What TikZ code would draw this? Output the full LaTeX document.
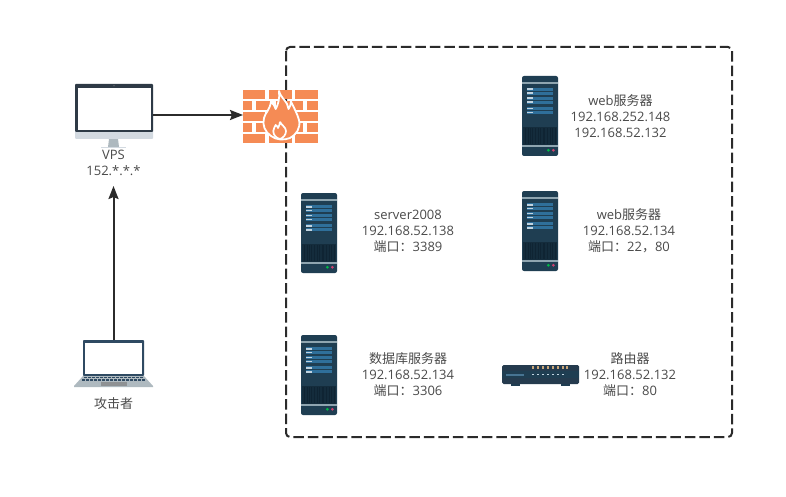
\documentclass[tikz,border=0pt]{standalone}
\usepackage{fontspec}
\setmainfont{Open Sans}
\newfontfamily\cjk{Noto Sans CJK SC}
\usetikzlibrary{arrows.meta}
\definecolor{txt}{HTML}{4A4A4A}
\definecolor{line}{HTML}{2B2B2B}
\definecolor{srv}{HTML}{1F3E52}
\definecolor{srvrow}{HTML}{2F6F9A}
\definecolor{srvband}{HTML}{8FA5B0}
\definecolor{srvvent}{HTML}{0F2433}
\definecolor{brick}{HTML}{F58B55}
\definecolor{navy}{HTML}{2F4A62}
\definecolor{bezel}{HTML}{2E3A46}
\definecolor{chin}{HTML}{D3DAE1}
\definecolor{stand}{HTML}{AEB9BF}
\definecolor{led}{HTML}{C9A77A}
\tikzset{
  x=1pt,y=-1pt,
  lbl/.style={font=\fontsize{13}{16}\selectfont,text=txt,align=center,inner sep=0pt,anchor=center},
  box/.style={inner sep=0pt,outer sep=0pt,anchor=north west},
  conn/.style={draw=line,line width=2pt,-{Stealth[length=13pt,width=10pt,inset=2pt]}},
  zone/.style={draw=line,line width=2pt,rounded corners=4pt,dash pattern=on 10.5pt off 4pt},
  serverpic/.pic={
    \fill[srv,rounded corners=2pt] (0,0) rectangle (36,80);
    \fill[srvband] (0,6) rectangle (36,8);
    \fill[srvband] (0,69) rectangle (36,71);
    \foreach \a/\b in {11.7/15.3,15.7/19,20.7/24,24.7/27.7,31/34.3,35/38.3}{
      \fill[srvrow] (5,\a) rectangle (31,\b);
      \fill[white!70!srvrow] (5,\a+0.8) rectangle (11,\b-0.8);
    }
    \fill[srvvent!70!srv] (1,51) rectangle (35,69);
    \foreach \v in {3,5.5,8,10,13,15.5,18,20.5,22,25,27.5,30,32.5}{
      \fill[srvvent] (\v,52) rectangle (\v+1.1,68);
    }
    \fill[green!45!teal] (26.3,74.3) circle (1.5);
    \fill[purple!75!white] (31.3,74.3) circle (1.5);
  }
}
\newcommand{\cj}[1]{{\cjk #1}}
\begin{document}
\begin{tikzpicture}
\useasboundingbox (0,0) rectangle (786,497);
\fill[white] (0,0) rectangle (786,497);

% dashed zone
\node[box,minimum width=446pt,minimum height=390pt] (zone) at (286,47) {};
\draw[zone] (zone.north west) rectangle (zone.south east);

% monitor
\node[box,minimum width=78pt,minimum height=64pt] (mon) at (75,84) {};
\fill[stand] (109,139) -- (118,139) -- (119,147) -- (108,147) -- cycle;
\fill[chin] (101,147) rectangle (126,148.5);
\fill[chin,rounded corners=1pt] (75,130) rectangle (153,139);
\fill[bezel,rounded corners=1pt] (75,84) rectangle (153,132);
\fill[white] (77.5,88) rectangle (151,130);
\fill[gray] (114,85.8) circle (0.6);

% firewall
\node[box,minimum width=75pt,minimum height=53pt] (fw) at (243,90) {};
\foreach \y in {90,112,134}{
  \foreach \a/\b in {243/265,269/292,295/318}{
    \fill[brick] (\a,\y) rectangle (\b,\y+9);
  }
}
\foreach \y in {101,123}{
  \foreach \a/\b in {243/252,256/272,276/303,307/318}{
    \fill[brick] (\a,\y) rectangle (\b,\y+9);
  }
}
\filldraw[fill=brick,draw=white,line width=1.8pt,line join=round]
  (279,91) .. controls (280,96) and (285,100) .. (287,104)
  .. controls (288,106) and (288,108) .. (288.5,109)
  .. controls (290,107) and (291,104) .. (291,101.5)
  .. controls (294,108) and (297,113) .. (299,120)
  .. controls (301,128) and (296,135) .. (290,138)
  .. controls (284,140.5) and (276,140) .. (271,136)
  .. controls (265,132) and (262,125) .. (264,118)
  .. controls (265,113) and (270,110) .. (271,101.5)
  .. controls (273,104) and (275,106) .. (275.7,109)
  .. controls (278,105) and (280,98) .. (279,91) -- cycle;
\draw[white,line width=1.7pt,line join=round]
  (280,121.7) .. controls (281,125) and (286,127) .. (286,131)
  .. controls (286,135) and (283,138) .. (280,139)
  .. controls (276,138) and (273.3,135) .. (273.3,131)
  .. controls (273.3,128.5) and (275,127) .. (275.7,125)
  .. controls (277,126) and (278,127) .. (278,128)
  .. controls (279,126) and (280,124) .. (280,121.7);

% laptop
\node[box,minimum width=79pt,minimum height=47pt] (lap) at (74,340) {};
\fill[navy,rounded corners=0.8pt] (83,340) rectangle (144,376);
\fill[white] (85,343) rectangle (142,374);
\fill[stand] (83,376) -- (144,376) -- (153,386) -- (153,387) -- (74,387) -- (74,386) -- cycle;
\foreach \r/\l/\u in {377.5/84/143,380/82/145}{
  \draw[navy,line width=1.5pt,dash pattern=on 3pt off 1pt] (\l,\r) -- (\u,\r);
}
\fill[gray!70!stand] (101,382) rectangle (127,386);

% router
\node[box,minimum width=77pt,minimum height=20pt] (rt) at (502,365) {};
\fill[srv] (511,384) rectangle (520,385.5);
\fill[srv] (561,384) rectangle (570,385.5);
\fill[navy!80!black,rounded corners=1.5pt] (502,365) rectangle (579,384);
\fill[srv] (502,371) rectangle (579,378);
\fill[srvrow!70!gray] (506,373.5) rectangle (524,375.5);
\foreach \v in {532,537,542,547,552,557,562}{
  \fill[white!70!srvrow] (\v,373.8) rectangle (\v+1.5,375.2);
  \fill[led] (\v,366.3) rectangle (\v+1.5,369);
}
\fill[led] (566,366.3) rectangle (567.5,369);

% servers
\node[box,minimum width=36pt,minimum height=80pt] (s1) at (522,76) {};
\node[box,minimum width=36pt,minimum height=80pt] (s2) at (522,191) {};
\node[box,minimum width=36pt,minimum height=80pt] (s3) at (301,193) {};
\node[box,minimum width=36pt,minimum height=80pt] (s4) at (301,335) {};
\pic at (s1.north west) {serverpic};
\pic at (s2.north west) {serverpic};
\pic at (s3.north west) {serverpic};
\pic at (s4.north west) {serverpic};

% labels
\node[lbl] (tvps) at (113.5,163) {VPS\\152.*.*.*};
\node[lbl] (tatk) at (113.5,404) {\cj{攻击者}};
\node[lbl] (t1) at (620.5,116) {web\cj{服务器}\\192.168.252.148\\192.168.52.132};
\node[lbl] (t2) at (629,231) {web\cj{服务器}\\192.168.52.134\\\cj{端口：}22\cj{，}80};
\node[lbl] (t3) at (408,231) {server2008\\192.168.52.138\\\cj{端口：}3389};
\node[lbl] (t4) at (408,375) {\cj{数据库服务器}\\192.168.52.134\\\cj{端口：}3306};
\node[lbl] (t5) at (630,375) {\cj{路由器}\\192.168.52.132\\\cj{端口：}80};

% connectors
\coordinate (monE) at (153,115);
\coordinate (fwW) at (243,115);
\coordinate (vpsS) at (113.5,186);
\draw[conn] (monE) -- (fwW);
\draw[conn] (lap.north) -- (vpsS);
\end{tikzpicture}
\end{document}
